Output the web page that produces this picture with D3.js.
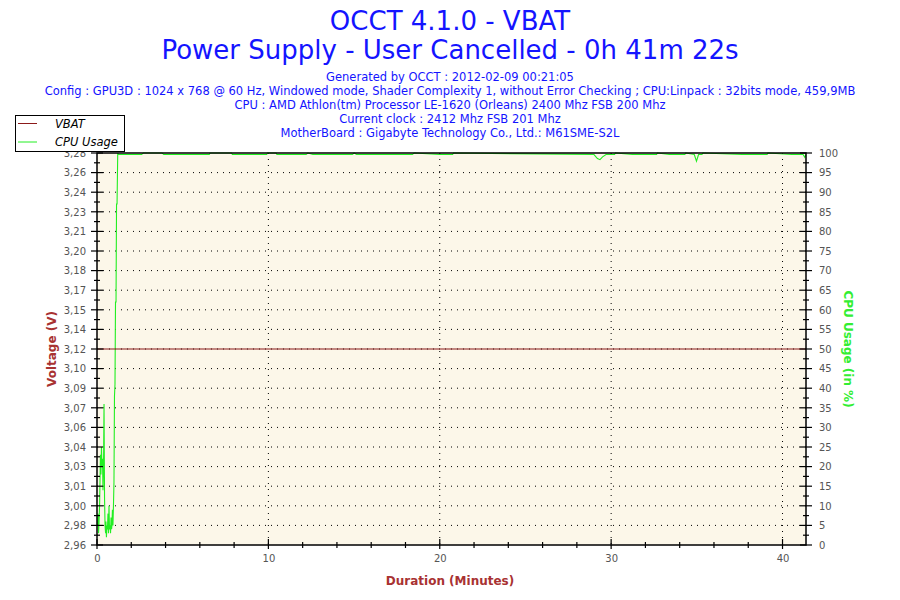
<!DOCTYPE html>
<html>
<head>
<meta charset="utf-8">
<script src="https://cdn.jsdelivr.net/npm/d3@7"></script>
<style>
  body { margin: 0; background: #fff; }
  svg { display: block; font-family: "DejaVu Sans", Verdana, sans-serif; }
</style>
</head>
<body>
<div id="chart"></div>
<script>
// header texts
const titleLines = ["OCCT 4.1.0 - VBAT", "Power Supply - User Cancelled - 0h 41m 22s"];
const infoLines = [
  "Generated by OCCT : 2012-02-09 00:21:05",
  "Config : GPU3D : 1024 x 768 @ 60 Hz, Windowed mode, Shader Complexity 1, without Error Checking ; CPU:Linpack : 32bits mode, 459,9MB",
  "CPU : AMD Athlon(tm) Processor LE-1620 (Orleans) 2400 Mhz FSB 200 Mhz",
  "Current clock : 2412 Mhz FSB 201 Mhz",
  "MotherBoard : Gigabyte Technology Co., Ltd.: M61SME-S2L"
];

// series
const vbatTime = [0, 41.37];
const vbatValue = [3.12, 3.12];

const cpuTime = [
  0.03, 0.06, 0.09, 0.12, 0.15, 0.17, 0.2, 0.23, 0.26, 0.29, 0.32, 0.35, 0.38, 0.41, 0.44,
  0.47, 0.5, 0.52, 0.55, 0.58, 0.61, 0.64, 0.67, 0.7, 0.73, 0.76, 0.79, 0.82, 0.85, 0.87,
  0.9, 0.93, 0.96, 0.99, 1.02, 1.05, 1.08, 1.11, 1.14, 1.17, 1.21,
  1.25, 2.6, 2.7, 3.8, 3.9, 6.55, 6.6, 7.85, 7.9, 9.9, 9.95, 10.45, 10.5, 12.2, 12.3,
  12.6, 14.9, 15.0, 15.15, 18.4, 18.5, 20.0, 20.75, 20.8, 29.0, 29.2, 29.35, 29.5, 29.7,
  30.2, 30.25, 31.25, 32.65, 32.7, 33.4, 34.3, 34.35, 34.85, 34.98, 35.1, 35.3, 35.35,
  37.65, 39.1, 39.15, 40.55, 41.2, 41.3, 41.37
];
const cpuValue = [
  5, 8, 3, 6, 10, 15, 23, 18, 25, 20, 22, 14, 20, 36, 12,
  5, 3, 6, 2, 5, 4, 8, 3, 10, 4, 5, 3, 7, 4, 5,
  9, 5, 10, 16, 38, 41, 62, 62, 87, 87, 100,
  99.6, 99.6, 100, 100, 99.6, 99.6, 100, 100, 99.6, 99.6, 100, 100, 99.6, 99.6, 100,
  99.6, 99.6, 100, 99.6, 99.6, 100, 99.6, 99.6, 100, 99.6, 98.6, 98.3, 99, 99.6,
  99.6, 100, 99.6, 99.6, 100, 99.6, 99.6, 100, 99.6, 97.9, 99.6, 99.6, 100,
  99.6, 99.6, 100, 99.6, 99.6, 98.9, 99.6
];

// axis ticks
const voltTicks = [2.964, 2.9796, 2.9952, 3.0108, 3.0264, 3.042, 3.0576, 3.0732, 3.0888, 3.1044,
  3.12, 3.1356, 3.1512, 3.1668, 3.1824, 3.198, 3.2136, 3.2292, 3.2448, 3.2604, 3.276];
const cpuTicks = [0, 5, 10, 15, 20, 25, 30, 35, 40, 45, 50, 55, 60, 65, 70, 75, 80, 85, 90, 95, 100];
const minuteTicks = [0, 10, 20, 30, 40];
const minuteMinor = [2, 4, 6, 8, 12, 14, 16, 18, 22, 24, 26, 28, 32, 34, 36, 38];

const width = 900, height = 600;
const margin = { top: 153, right: 94, bottom: 55, left: 97 };
const plotW = width - margin.left - margin.right;
const plotH = height - margin.top - margin.bottom;

const svg = d3.select("#chart").append("svg")
  .attr("width", width)
  .attr("height", height);

// titles
svg.selectAll(".title")
  .data(titleLines)
  .enter().append("text")
  .attr("x", 450)
  .attr("y", (d, i) => 30 + i * 29)
  .attr("text-anchor", "middle")
  .attr("font-size", 26)
  .attr("fill", "#1414ff")
  .text(d => d);

svg.selectAll(".info")
  .data(infoLines)
  .enter().append("text")
  .attr("x", 450)
  .attr("y", (d, i) => 81 + i * 14)
  .attr("text-anchor", "middle")
  .attr("font-size", 11.5)
  .attr("fill", "#1414ff")
  .text(d => d);

const g = svg.append("g")
  .attr("transform", `translate(${margin.left},${margin.top})`);

// scales
const x = d3.scaleLinear().domain([0, 41.37]).range([0, plotW]);
const yV = d3.scaleLinear().domain([2.964, 3.276]).range([plotH, 0]);
const yC = d3.scaleLinear().domain([0, 100]).range([plotH, 0]);

g.append("rect")
  .attr("width", plotW)
  .attr("height", plotH)
  .attr("fill", "#fcf7e9");

// dotted grid
g.selectAll(".hgrid")
  .data(voltTicks.slice(1, -1))
  .enter().append("line")
  .attr("x1", 0).attr("x2", plotW)
  .attr("y1", d => yV(d)).attr("y2", d => yV(d))
  .attr("stroke", "#000")
  .attr("stroke-dasharray", "1,5");

g.selectAll(".vgrid")
  .data(minuteTicks.slice(1))
  .enter().append("line")
  .attr("x1", d => x(d)).attr("x2", d => x(d))
  .attr("y1", 0).attr("y2", plotH)
  .attr("stroke", "#000")
  .attr("stroke-dasharray", "1,5");

// series lines
svg.append("clipPath").attr("id", "plotclip")
  .append("rect").attr("x", -1).attr("y", -1).attr("width", plotW + 2).attr("height", plotH + 2);

const vbatLine = d3.line()
  .x((d, i) => x(vbatTime[i]))
  .y(d => yV(d));

const cpuLine = d3.line()
  .x((d, i) => x(cpuTime[i]))
  .y(d => yC(d));

g.append("path")
  .datum(cpuValue)
  .attr("clip-path", "url(#plotclip)")
  .attr("fill", "none")
  .attr("stroke", "#22ee22")
  .attr("stroke-width", 1.1)
  .attr("d", cpuLine);

g.append("path")
  .datum(vbatValue)
  .attr("fill", "none")
  .attr("stroke", "#8b1a1a")
  .attr("stroke-width", 1)
  .attr("d", vbatLine);

// frame
g.append("rect")
  .attr("width", plotW)
  .attr("height", plotH)
  .attr("fill", "none")
  .attr("stroke", "#000")
  .attr("stroke-width", 1.5);

// axes: major ticks cross the axis line, minor ticks shorter
function tickLines(sel, vals, fn, len) {
  sel.selectAll(null).data(vals).enter().append("line")
    .each(function(d) {
      const c = fn(d, len);
      d3.select(this).attr("x1", c[0]).attr("y1", c[1]).attr("x2", c[2]).attr("y2", c[3]);
    })
    .attr("stroke", "#000")
    .attr("stroke-width", 1.2);
}

const voltMinor = voltTicks.slice(0, -1).map((d, i) => (d + voltTicks[i + 1]) / 2);
const cpuMinor = cpuTicks.slice(0, -1).map(d => d + 2.5);

tickLines(g, voltTicks, (d, l) => [-l, yV(d), l, yV(d)], 6);
tickLines(g, voltMinor, (d, l) => [-l, yV(d), l, yV(d)], 3);
tickLines(g, cpuTicks, (d, l) => [plotW - l, yC(d), plotW + l, yC(d)], 6);
tickLines(g, cpuMinor, (d, l) => [plotW - l, yC(d), plotW + l, yC(d)], 3);
tickLines(g, minuteTicks, (d, l) => [x(d), plotH - l, x(d), plotH + 4], 6);
tickLines(g, minuteMinor, (d, l) => [x(d), plotH - l, x(d), plotH + l], 3);

const fmtV = d => d3.format(".2f")(d).replace(".", ",");

const yAxisL = d3.axisLeft(yV).tickValues(voltTicks).tickFormat(fmtV).tickSize(0).tickPadding(11);
const yAxisR = d3.axisRight(yC).tickValues(cpuTicks).tickSize(0).tickPadding(13);
const xAxis = d3.axisBottom(x).tickValues(minuteTicks).tickSize(0).tickPadding(10);

[
  g.append("g").call(yAxisL),
  g.append("g").attr("transform", `translate(${plotW},0)`).call(yAxisR),
  g.append("g").attr("transform", `translate(0,${plotH})`).call(xAxis)
].forEach(a => {
  a.select(".domain").remove();
  a.selectAll("text")
    .attr("font-family", "DejaVu Sans, Verdana, sans-serif")
    .attr("font-size", 10)
    .attr("fill", "#555");
});

// axis titles
svg.append("text")
  .attr("x", 450).attr("y", 585)
  .attr("text-anchor", "middle")
  .attr("font-size", 12).attr("font-weight", "bold")
  .attr("fill", "#a83232")
  .text("Duration (Minutes)");

svg.append("text")
  .attr("transform", "translate(56,349) rotate(-90)")
  .attr("text-anchor", "middle")
  .attr("font-size", 12).attr("font-weight", "bold")
  .attr("fill", "#a83232")
  .text("Voltage (V)");

svg.append("text")
  .attr("transform", "translate(844,349) rotate(90)")
  .attr("text-anchor", "middle")
  .attr("font-size", 12).attr("font-weight", "bold")
  .attr("fill", "#33ee33")
  .text("CPU Usage (in %)");

// legend
const legendItems = ["VBAT", "CPU Usage"];
const legendColors = ["#8b1a1a", "#22ee22"];
const legend = svg.append("g");
legend.append("rect")
  .attr("x", 15.5).attr("y", 115.5)
  .attr("width", 109).attr("height", 36)
  .attr("fill", "#fff")
  .attr("stroke", "#000");
legendItems.forEach((name, i) => {
  legend.append("line")
    .attr("x1", 18).attr("x2", 37)
    .attr("y1", 123.5 + i * 18.5).attr("y2", 123.5 + i * 18.5)
    .attr("stroke", legendColors[i]);
  legend.append("text")
    .attr("x", 55).attr("y", 127.5 + i * 18.5)
    .attr("font-size", 11.5)
    .attr("font-style", "italic")
    .attr("fill", "#000")
    .text(name);
});
</script>
</body>
</html>
